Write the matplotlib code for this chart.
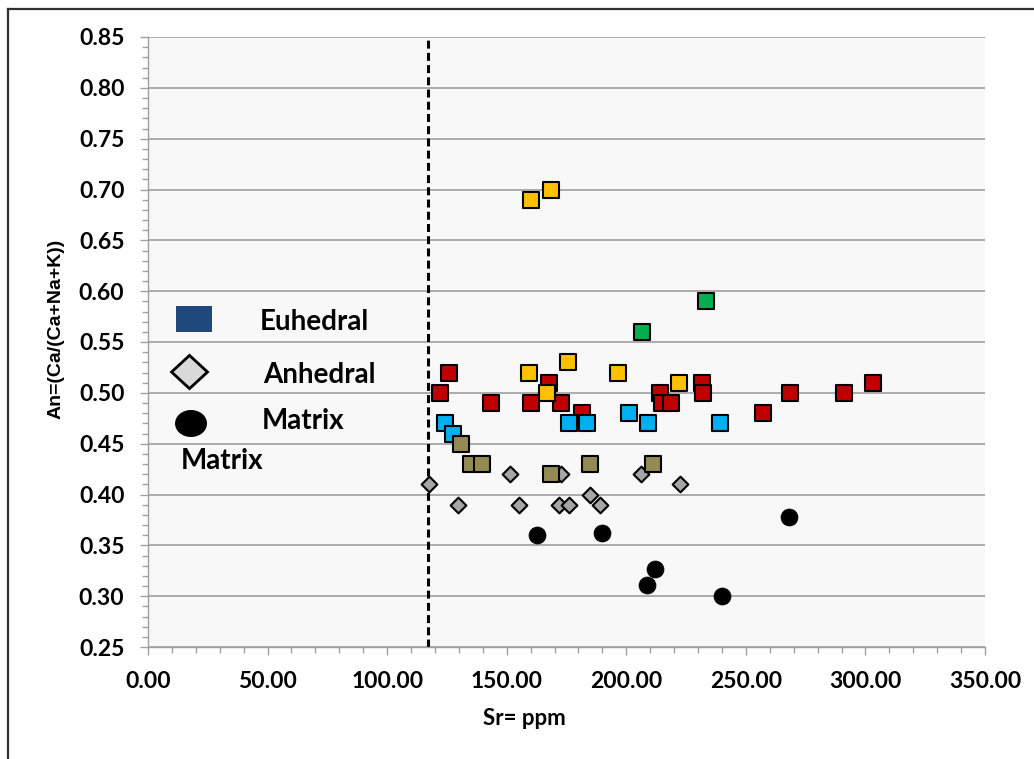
import matplotlib
matplotlib.use("Agg")
import matplotlib.pyplot as plt
from matplotlib.lines import Line2D
from matplotlib.patches import Rectangle, Polygon, Ellipse
from matplotlib.ticker import MultipleLocator, FormatStrFormatter

# Sr (ppm) vs An for each plagioclase group
red_sr = [126, 122, 143.5, 160, 167.5, 172.5, 181.5, 214, 215, 218.5, 231.5, 232, 257, 268.5, 291, 303]
red_an = [0.52, 0.50, 0.49, 0.49, 0.51, 0.49, 0.48, 0.50, 0.49, 0.49, 0.51, 0.50, 0.48, 0.50, 0.50, 0.51]

yellow_sr = [160, 168.5, 159.5, 175.5, 196.5, 167, 222]
yellow_an = [0.69, 0.70, 0.52, 0.53, 0.52, 0.50, 0.51]

green_sr = [206.5, 233.5]
green_an = [0.56, 0.59]

blue_sr = [124, 127.5, 176, 183.5, 201, 209, 239]
blue_an = [0.47, 0.46, 0.47, 0.47, 0.48, 0.47, 0.47]

anhedral_sr = [117.5, 129.5, 151.5, 155, 172.5, 172, 176, 185, 189, 206, 222.5]
anhedral_an = [0.41, 0.39, 0.42, 0.39, 0.42, 0.39, 0.39, 0.40, 0.39, 0.42, 0.41]

olive_sr = [131, 135, 139.5, 168.5, 185, 211]
olive_an = [0.45, 0.43, 0.43, 0.42, 0.43, 0.43]

matrix_sr = [162.5, 190, 208.5, 212, 240, 268]
matrix_an = [0.36, 0.362, 0.311, 0.327, 0.30, 0.378]

sr_cutoff = 117

legend_labels = ["Euhedral", "Anhedral", "Matrix", "Matrix"]

TICK_FONT = "Lato"

fig = plt.figure(figsize=(10.34, 7.59), dpi=100)
fig.patch.set_facecolor("white")
ax = fig.add_axes([148 / 1034, 1 - 647 / 759, 837 / 1034, 610 / 759])
ax.set_facecolor("#F8F8F8")

sq = dict(marker="s", s=118, edgecolors="black", linewidths=1.5, zorder=3)
ax.scatter(red_sr, red_an, color="#C00000", **sq)
ax.scatter(yellow_sr, yellow_an, color="#FFC000", **sq)
ax.scatter(green_sr, green_an, color="#00B050", **sq)
ax.scatter(blue_sr, blue_an, color="#00B0F0", **sq)
ax.scatter(anhedral_sr, anhedral_an, marker="D", s=64, color="#A6A6A6",
           edgecolors="black", linewidths=1.5, zorder=3)
ax.scatter(olive_sr, olive_an, color="#948A54", **sq)
ax.scatter(matrix_sr, matrix_an, marker="o", s=150, color="black",
           edgecolors="black", linewidths=0.5, zorder=3)

ax.axvline(sr_cutoff, color="black", lw=2.2, linestyle=(0, (2.6, 1.4)), zorder=2)

ax.set_xlim(0, 350)
ax.set_ylim(0.25, 0.85)
ax.xaxis.set_major_locator(MultipleLocator(50))
ax.xaxis.set_minor_locator(MultipleLocator(10))
ax.yaxis.set_major_locator(MultipleLocator(0.05))
ax.yaxis.set_minor_locator(MultipleLocator(0.01))
ax.xaxis.set_major_formatter(FormatStrFormatter("%.2f"))
ax.yaxis.set_major_formatter(FormatStrFormatter("%.2f"))

ax.yaxis.grid(True, which="major", color="#A6A6A6", lw=1.3, zorder=1)
ax.set_axisbelow(True)
for side in ["top", "right"]:
    ax.spines[side].set_visible(False)
for side in ["left", "bottom"]:
    ax.spines[side].set_color("#A0A0A0")
    ax.spines[side].set_linewidth(1.0)

ax.tick_params(which="major", length=6, width=1, color="#A0A0A0", pad=11)
ax.tick_params(which="minor", length=4.5, width=1, color="#A0A0A0")
for lab in ax.get_xticklabels() + ax.get_yticklabels():
    lab.set_fontfamily(TICK_FONT)
    lab.set_fontweight("bold")
    lab.set_fontsize(16.5)

ax.text(0.4498, -0.1164, "Sr= ppm", transform=ax.transAxes, ha="center", va="center",
        fontfamily=TICK_FONT, fontweight="bold", fontsize=16)
ax.text(-0.110, 0.521, "An=(Ca/(Ca+Na+K))", transform=ax.transAxes, rotation=90,
        ha="center", va="center", fontfamily="Liberation Sans", fontweight="bold", fontsize=14)

# hand-drawn key inside the plot area
ax.add_patch(Rectangle((0.0335, 0.5164), 0.043, 0.0426, transform=ax.transAxes,
                       facecolor="#1F497D", edgecolor="none", zorder=4))
cx, cy, hw, hh = 0.0496, 0.4508, 0.0215, 0.0272
ax.add_patch(Polygon([(cx - hw, cy), (cx, cy + hh), (cx + hw, cy), (cx, cy - hh)],
                     closed=True, transform=ax.transAxes, facecolor="#D9D9D9",
                     edgecolor="black", lw=2, zorder=4))
ax.add_patch(Ellipse((0.0514, 0.3664), 0.0382, 0.0443, transform=ax.transAxes,
                     facecolor="black", edgecolor="none", zorder=4))
label_pos = [(0.1338, 0.5328), (0.1374, 0.4459), (0.1362, 0.3705), (0.0394, 0.3049)]
for (lx, ly), txt in zip(label_pos, legend_labels):
    ax.text(lx, ly, txt, transform=ax.transAxes, ha="left", va="center",
            fontfamily=TICK_FONT, fontweight="bold", fontsize=20)

# frame edges along the top and left of the figure
fig.add_artist(Line2D([8 / 1034, 1], [1 - 8.5 / 759, 1 - 8.5 / 759], color="#303030", lw=1.6))
fig.add_artist(Line2D([8 / 1034, 8 / 1034], [0, 1 - 8.5 / 759], color="#303030", lw=1.6))

fig.savefig("out.png", dpi=100)
